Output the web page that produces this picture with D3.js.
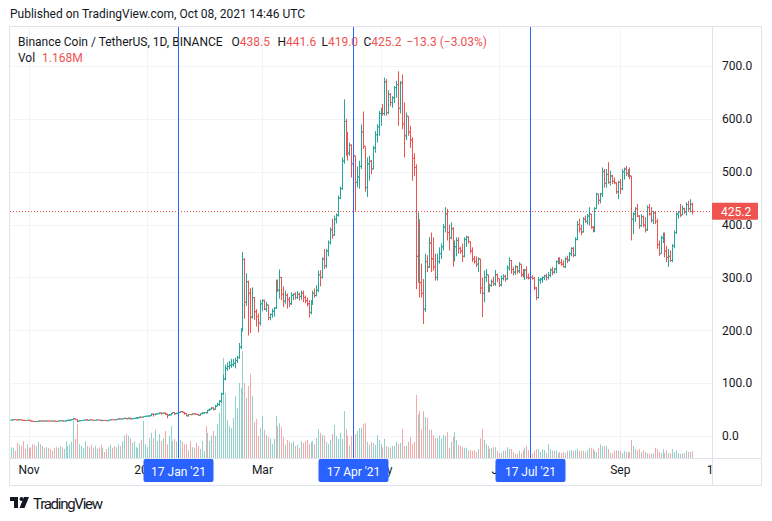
<!DOCTYPE html>
<html lang="en">
  <head>
    <meta charset="UTF-8" />
    <title>BNBUSDT 1D</title>
    <script src="https://d3js.org/d3.v7.min.js"></script>
    <style>
      body {
        margin: 0;
        background: #ffffff;
        font-family: Roboto, sans-serif;
      }
      text {
        font-family: Roboto, sans-serif;
      }
    </style>
  </head>
  <body>
    <svg id="chart" width="772" height="521"></svg>
    <script>
      // daily bars, first bar = 23 Oct 2020, last bar = 08 Oct 2021
      let firstDay = Date.UTC(2020, 9, 23);
      let firstOpen = 29.9;

      let close = [
        30.2,31.0,30.6,30.4,30.9,29.9,29.6,29.3,29.8,29.6,
        28.2,27.7,27.3,27.4,28.6,28.0,28.5,28.3,28.4,28.3,
        28.2,28.5,27.9,27.7,28.6,28.8,28.3,28.4,29.1,30.0,
        30.0,31.0,32.7,31.2,28.2,29.0,29.3,29.9,30.6,29.6,
        30.5,30.4,29.4,30.2,30.4,30.0,29.1,29.4,29.2,28.9,
        29.9,30.8,30.7,30.6,31.6,32.5,32.0,32.7,33.4,32.6,
        34.0,32.5,33.0,33.6,34.2,34.3,35.8,35.4,36.9,37.4,
        37.8,38.2,41.3,40.8,41.7,42.3,43.6,42.9,43.1,41.6,
        39.4,40.1,42.7,44.3,42.1,42.9,44.4,46.2,45.0,42.7,
        38.3,40.7,40.4,42.1,41.5,40.9,39.3,42.0,43.2,44.4,
        43.9,48.8,50.5,53.1,50.6,56.6,59.8,66.0,80.0,108.0,
        128,131.5,133.5,135,137.5,143,148.5,168.5,199,334,
        253,292,270,225,262,235,226,214,250,256,
        240,248,224,230,236,242,290,276,300,268,
        255,266,258,250,266,268,262,268,264,270,
        262,256,250,234,250,270,266,276,305,300,
        335,322,350,366,390,380,410,418,450,468,
        520,595,555,535,550,515,530,480,490,510,
        575,548,470,515,520,505,545,570,585,610,
        618,610,670,612,646,631,640,659,665,620,
        668,590,568,605,575,560,525,508,340,400,
        290,270,240,330,320,365,335,320,300,330,
        345,358,395,420,385,375,392,340,358,370,
        355,350,340,372,376,368,350,335,330,325,
        335,280,270,300,305,280,285,292,288,305,
        298,286,298,302,297,318,332,315,310,320,
        312,325,305,303,314,300,299,300,298,280,
        262,295,297,300,303,300,304,314,310,316,
        330,335,328,325,320,335,333,345,355,342,
        372,400,392,386,410,406,416,420,395,388,
        430,458,446,458,500,478,495,480,492,482,
        479,462,480,468,500,505,497,502,492,410,
        420,430,416,398,415,399,390,432,420,408,
        422,406,362,345,375,382,350,338,340,332,
        360,385,420,424,418,430,424,438,430,438.5,425.2
      ];

      let high = [
        30.8,31.4,31.3,30.9,31.2,31.0,30.3,29.8,30.2,30.1,
        29.8,28.4,27.9,28.0,29.0,29.3,28.9,29.0,28.8,28.9,
        28.6,28.8,28.6,28.1,28.8,29.2,29.5,28.7,29.4,30.4,
        31.2,31.8,34.5,33.0,31.6,29.6,29.8,30.2,31.2,31.6,
        30.8,31.0,30.6,30.4,30.6,30.5,30.1,29.7,29.6,29.3,
        30.1,31.0,31.1,31.0,31.8,33.6,32.8,33.0,34.6,33.8,
        34.4,34.4,33.2,34.0,35.0,35.8,36.5,36.3,37.2,38.0,
        38.3,39.0,42.8,42.6,42.4,42.9,44.8,44.3,44.0,44.4,
        41.8,42.0,43.4,45.0,45.0,43.8,45.1,47.0,47.5,45.3,
        43.4,41.3,41.5,42.4,43.0,41.8,41.1,42.5,45.6,45.3,
        45.0,49.7,52.0,54.6,54.3,58.7,62.5,68.0,82.0,116.0,
        135,139,142,146,145.5,148,152,176,204,348,
        336,308,294,280,281,263,240,232,257,259,
        258,254,248,232,241,244,296,296,315,301,
        283,275,270,263,272,270,272,274,271,275,
        275,266,262,257,257,275,279,285,313,314,
        338,354,354,370,395,411,417,421,455,472,
        527,637,600,575,555,552,547,530,510,521,
        589,614,548,527,530,522,549,577,590,615,
        621,628,678,675,654,649,643,662,672,690,
        672,684,631,612,605,587,565,535,514,423,
        410,326,297,345,342,376,385,376,345,345,
        357,364,401,433,430,400,404,395,370,376,
        376,358,364,376,379,378,368,357,341,340,
        338,335,300,313,316,305,288,296,301,314,
        307,298,304,306,305,323,338,333,320,323,
        322,329,325,316,316,321,307,307,304,301,
        282,301,299,302,305,307,310,317,320,318,
        332,338,338,335,332,338,341,348,357,358,
        376,407,411,400,414,417,420,433,420,397,
        433,460,458,460,508,505,505,518,502,494,
        489,480,483,486,505,508,511,505,508,492,
        423,433,439,418,420,417,414,436,439,433,
        426,424,411,370,379,385,385,360,354,351,
        363,389,423,426,439,436,432,442,445,448,441.6
      ];

      let low = [
        29.6,30.0,30.2,29.6,30.0,29.3,28.9,28.6,29.0,29.2,
        27.8,27.0,26.7,26.8,27.2,27.8,27.8,27.9,28.0,28.0,
        27.8,27.9,27.4,27.2,27.5,28.2,27.6,27.8,28.2,29.0,
        28.6,29.9,30.7,30.6,26.0,27.6,28.4,29.0,29.6,28.9,
        29.2,30.0,29.0,29.2,29.9,29.6,28.7,28.2,28.8,28.3,
        28.8,29.8,30.3,30.2,30.3,31.4,31.4,31.8,32.5,31.5,
        31.8,31.0,31.5,32.6,33.3,33.5,34.1,34.5,35.3,36.3,
        36.8,36.6,37.8,36.6,39.0,40.8,41.6,40.5,42.1,39.8,
        33.5,38.2,39.3,42.1,40.0,41.4,41.6,43.5,44.5,40.0,
        37.2,36.7,39.5,39.9,40.8,39.5,37.8,38.7,41.5,42.5,
        42.8,43.5,47.5,50.0,48.6,50.0,55.8,57.0,63.0,78.0,
        105,123,126,129,131,128,138,146,164,198,
        222,246,190,195,222,220,207,196,209,236,
        238,235,219,219,224,226,240,272,260,257,
        244,250,241,244,248,257,258,259,256,258,
        253,251,245,224,230,248,262,264,272,283,
        298,316,318,340,362,373,379,402,415,448,
        466,515,530,521,530,489,508,426,470,468,
        505,543,462,452,483,495,505,536,555,568,
        587,606,606,606,609,624,621,630,640,587,
        610,580,527,560,568,545,483,492,278,290,
        262,262,212,235,310,318,310,313,294,294,
        326,335,351,385,370,351,372,320,330,340,
        345,345,329,338,358,364,345,329,326,320,
        310,269,225,253,291,272,272,282,284,284,
        291,282,283,294,292,296,313,307,304,305,
        307,308,301,300,295,297,296,296,296,276,
        257,260,288,290,295,294,296,300,304,307,
        308,325,325,322,319,318,327,330,340,338,
        340,370,385,380,385,403,400,398,392,385,
        386,430,438,440,452,470,470,477,474,477,
        476,458,448,458,465,485,492,490,486,370,
        382,405,414,392,396,395,385,388,417,404,
        401,401,354,341,345,365,338,329,320,329,
        329,355,382,411,414,418,420,417,426,423,419.0
      ];

      // volume in millions of BNB
      let volume = [
        1.8,1.7,1.2,2.5,2.2,2.0,2.8,1.5,2.3,1.7,
        1.8,2.3,2.2,2.0,2.7,2.3,2.0,1.7,1.8,1.7,
        1.5,1.2,1.7,1.8,1.7,2.0,1.8,1.5,2.8,2.0,
        2.3,2.7,6.2,3.2,5.7,2.3,2.0,1.7,2.8,2.0,
        1.8,2.2,1.7,2.0,1.5,1.8,2.2,1.7,1.0,1.5,
        1.8,2.2,1.7,2.0,1.8,2.3,2.0,2.8,3.7,4.0,
        3.7,3.3,2.5,2.8,1.8,1.7,2.5,3.0,6.2,2.3,
        1.8,3.3,4.2,3.3,4.7,2.8,4.0,2.8,3.3,4.5,
        2.3,3.7,5.3,2.8,3.2,2.8,1.7,3.0,2.7,2.3,
        2.3,1.3,2.8,1.8,1.7,2.5,2.0,1.5,2.8,1.2,
        5.3,4.2,2.8,3.7,4.5,3.7,5.7,7.5,10.0,16.7,
        10.8,6.3,5.3,5.0,6.7,10.3,8.3,12.5,11.7,17.8,
        12.5,10.0,12.0,14.0,10.3,6.0,6.5,3.7,5.0,7.0,
        4.7,3.8,3.5,3.2,2.3,3.2,7.0,5.3,5.8,5.2,
        3.5,2.2,3.0,2.7,2.5,2.8,2.0,2.2,1.7,2.8,
        2.5,2.8,3.0,2.3,2.7,2.8,2.3,3.3,4.8,4.2,
        3.8,3.7,2.7,2.3,3.0,4.0,5.5,3.7,3.2,4.2,
        3.2,7.8,4.8,3.7,2.0,3.7,3.3,4.0,4.5,5.0,
        5.0,5.7,5.8,2.7,2.2,2.7,2.5,2.2,3.8,3.0,
        2.3,1.8,3.2,2.0,1.8,1.7,2.0,2.0,2.7,2.3,
        2.5,4.8,2.0,2.0,2.7,3.5,2.3,2.7,10.5,7.3,
        7.8,4.7,7.8,6.8,6.7,4.7,4.7,3.8,3.3,3.3,
        3.7,3.2,3.8,3.7,4.3,1.7,2.7,3.5,4.3,3.0,
        2.2,2.0,1.8,1.7,1.7,1.3,1.3,1.2,1.3,1.0,
        1.5,3.3,4.8,3.0,2.3,2.0,1.5,1.7,1.8,1.8,
        1.2,0.8,0.8,1.2,1.2,1.8,1.5,1.5,1.0,0.7,
        0.7,1.2,0.8,1.3,1.7,2.0,1.3,0.8,0.7,1.2,
        1.5,1.5,1.0,1.5,1.3,0.8,2.3,1.5,1.2,1.2,
        1.3,0.8,1.0,0.8,1.0,0.8,1.2,1.2,1.3,1.2,
        1.3,1.5,1.2,1.2,1.2,1.0,1.3,1.7,1.7,1.5,
        1.2,1.0,1.7,2.3,2.0,2.0,2.0,1.5,0.8,0.8,
        1.2,1.3,1.2,1.2,0.8,1.2,1.0,1.0,1.0,3.0,
        2.0,1.5,1.3,1.5,1.0,1.3,1.0,0.8,0.7,0.7,
        0.7,1.7,1.5,1.0,0.8,1.5,0.8,1.3,0.8,0.8,
        1.5,1.0,1.3,0.8,0.7,0.8,0.8,1.2,1.0,1.0,1.168
      ];

      let priceTicks = [0, 100, 200, 300, 400, 500, 600, 700];
      let timeTicks = [
        [Date.UTC(2020, 10, 1), "Nov"],
        [Date.UTC(2021, 0, 1), "2021"],
        [Date.UTC(2021, 2, 1), "Mar"],
        [Date.UTC(2021, 4, 1), "May"],
        [Date.UTC(2021, 6, 1), "Jul"],
        [Date.UTC(2021, 8, 1), "Sep"],
        [Date.UTC(2021, 9, 19), "18"],
      ];
      let markers = [
        [Date.UTC(2021, 0, 17), "17 Jan '21"],
        [Date.UTC(2021, 3, 17), "17 Apr '21"],
        [Date.UTC(2021, 6, 17), "17 Jul '21"],
      ];
      let lastPrice = 425.2;

      let up = "#26a69a";
      let down = "#ef5350";
      let upVol = "rgba(38,166,154,0.5)";
      let downVol = "rgba(239,83,80,0.5)";
      let textColor = "#131722";
      let gridColor = "#f0f3fa";
      let borderColor = "#e0e3eb";
      let blue = "#2962ff";

      let bars = close.map(function (c, i) {
        return {
          date: new Date(firstDay + i * 86400000),
          open: i === 0 ? firstOpen : close[i - 1],
          high: high[i],
          low: low[i],
          close: c,
          volume: volume[i],
        };
      });

      // pane geometry
      let paneLeft = 10, paneRight = 712, paneTop = 27, paneBottom = 458;

      let x = d3
        .scaleUtc()
        .domain([new Date(Date.UTC(2021, 0, 17)), new Date(Date.UTC(2021, 6, 17))])
        .range([178.3, 530.3]);
      let y = d3.scaleLinear().domain([0, 700]).range([436, 66]);
      let vy = d3.scaleLinear().domain([0, 18]).range([paneBottom, paneBottom - 108]);

      let svg = d3.select("#chart");
      svg.append("rect").attr("width", 772).attr("height", 521).attr("fill", "#fff");

      svg
        .append("text")
        .attr("x", 10)
        .attr("y", 18)
        .attr("font-size", 12)
        .attr("fill", textColor)
        .text("Published on TradingView.com, Oct 08, 2021 14:46 UTC");

      svg
        .append("clipPath")
        .attr("id", "pane")
        .append("rect")
        .attr("x", paneLeft)
        .attr("y", paneTop)
        .attr("width", paneRight - paneLeft)
        .attr("height", paneBottom - paneTop);

      let pane = svg.append("g").attr("clip-path", "url(#pane)");

      // grid
      pane
        .selectAll(".hgrid")
        .data(priceTicks)
        .enter()
        .append("line")
        .attr("x1", paneLeft)
        .attr("x2", paneRight)
        .attr("y1", (d) => Math.round(y(d)) + 0.5)
        .attr("y2", (d) => Math.round(y(d)) + 0.5)
        .attr("stroke", gridColor);
      pane
        .selectAll(".vgrid")
        .data(timeTicks)
        .enter()
        .append("line")
        .attr("x1", (d) => Math.round(x(d[0])) + 0.5)
        .attr("x2", (d) => Math.round(x(d[0])) + 0.5)
        .attr("y1", paneTop)
        .attr("y2", paneBottom)
        .attr("stroke", gridColor);

      // legend
      let legend = pane.append("text").attr("y", 46).attr("font-size", 12).attr("fill", textColor);
      legend.append("tspan").attr("x", 18).text("Binance Coin / TetherUS, 1D, BINANCE");
      let ohlc = [
        ["O", "438.5", 231.5],
        ["H", "441.6", 277.5],
        ["L", "419.0", 321.5],
        ["C", "425.2", 363.5],
      ];
      ohlc.forEach(function (d) {
        legend.append("tspan").attr("x", d[2]).text(d[0]);
        legend.append("tspan").attr("fill", down).text(d[1]);
      });
      legend.append("tspan").attr("dx", 5).attr("fill", down).text("\u221213.3 (\u22123.03%)");

      let volLegend = pane.append("text").attr("y", 62).attr("font-size", 12).attr("fill", textColor);
      volLegend.append("tspan").attr("x", 18).text("Vol");
      volLegend.append("tspan").attr("x", 42).attr("fill", down).text("1.168M");

      // volume
      pane
        .selectAll(".vol")
        .data(bars)
        .enter()
        .append("rect")
        .attr("x", (d) => Math.round(x(d.date)))
        .attr("width", 1)
        .attr("y", (d) => vy(d.volume))
        .attr("height", (d) => paneBottom - vy(d.volume))
        .attr("fill", (d) => (d.close >= d.open ? upVol : downVol));

      // last price line
      pane
        .append("line")
        .attr("x1", paneLeft)
        .attr("x2", paneRight)
        .attr("y1", Math.round(y(lastPrice)) + 0.5)
        .attr("y2", Math.round(y(lastPrice)) + 0.5)
        .attr("stroke", down)
        .attr("stroke-dasharray", "1,2");

      // OHLC bars
      let barG = pane.selectAll(".bar").data(bars).enter().append("g")
        .attr("stroke", (d) => (d.close >= d.open ? up : down))
        .attr("stroke-width", 1);
      barG
        .append("line")
        .attr("x1", (d) => Math.round(x(d.date)) + 0.5)
        .attr("x2", (d) => Math.round(x(d.date)) + 0.5)
        .attr("y1", (d) => y(d.high))
        .attr("y2", (d) => y(d.low));
      barG
        .append("line")
        .attr("x1", (d) => Math.round(x(d.date)) - 1)
        .attr("x2", (d) => Math.round(x(d.date)) + 0.5)
        .attr("y1", (d) => y(d.open))
        .attr("y2", (d) => y(d.open));
      barG
        .append("line")
        .attr("x1", (d) => Math.round(x(d.date)) + 0.5)
        .attr("x2", (d) => Math.round(x(d.date)) + 2)
        .attr("y1", (d) => y(d.close))
        .attr("y2", (d) => y(d.close));

      // vertical date markers
      pane
        .selectAll(".marker")
        .data(markers)
        .enter()
        .append("line")
        .attr("x1", (d) => Math.round(x(d[0])) + 0.5)
        .attr("x2", (d) => Math.round(x(d[0])) + 0.5)
        .attr("y1", paneTop)
        .attr("y2", paneBottom)
        .attr("stroke", blue);

      // frame
      svg.append("rect").attr("x", 9.5).attr("y", 26.5).attr("width", 752).attr("height", 459)
        .attr("fill", "none").attr("stroke", borderColor);
      svg.append("line").attr("x1", 712.5).attr("x2", 712.5).attr("y1", 26.5).attr("y2", 485.5)
        .attr("stroke", borderColor);
      svg.append("line").attr("x1", 9.5).attr("x2", 761.5).attr("y1", 458.5).attr("y2", 458.5)
        .attr("stroke", borderColor);

      // price axis
      let yAxis = d3
        .axisRight(y)
        .tickValues(priceTicks)
        .tickFormat(d3.format(".1f"))
        .tickSize(0)
        .tickPadding(0);
      svg
        .append("g")
        .attr("transform", "translate(722,0)")
        .call(yAxis)
        .call((g) => g.select(".domain").remove())
        .selectAll("text")
        .attr("font-size", 12)
        .attr("font-family", "Roboto, sans-serif")
        .attr("fill", textColor);

      let tag = svg.append("g").attr("transform", "translate(0," + y(lastPrice) + ")");
      tag.append("rect").attr("x", 712).attr("y", -8.5).attr("width", 46).attr("height", 17)
        .attr("rx", 1).attr("fill", down);
      tag.append("text").attr("x", 721).attr("y", 4.3).attr("font-size", 12).attr("fill", "#fff")
        .text(d3.format(".1f")(lastPrice));

      // time axis
      svg
        .append("clipPath")
        .attr("id", "taxis")
        .append("rect")
        .attr("x", paneLeft)
        .attr("y", 459)
        .attr("width", paneRight - paneLeft)
        .attr("height", 26);
      let xAxis = d3
        .axisBottom(x)
        .tickValues(timeTicks.map((d) => new Date(d[0])))
        .tickFormat((d, i) => timeTicks[i][1])
        .tickSize(0)
        .tickPadding(0);
      svg
        .append("g")
        .attr("clip-path", "url(#taxis)")
        .append("g")
        .attr("transform", "translate(0,465)")
        .call(xAxis)
        .call((g) => g.select(".domain").remove())
        .selectAll("text")
        .attr("font-size", 12)
        .attr("font-family", "Roboto, sans-serif")
        .attr("fill", textColor);

      let mk = svg.selectAll(".mk").data(markers).enter().append("g")
        .attr("transform", (d) => "translate(" + (Math.round(x(d[0])) + 0.5) + ",0)");
      mk.append("rect").attr("x", -35).attr("y", 459).attr("width", 70).attr("height", 23)
        .attr("rx", 2).attr("fill", blue);
      mk.append("text").attr("y", 475.5).attr("text-anchor", "middle").attr("font-size", 12)
        .attr("fill", "#fff").text((d) => d[1]);

      // TradingView logo
      let logo = svg.append("g").attr("transform", "translate(10,497)").attr("fill", textColor);
      logo.append("path").attr("d", "M0,0 H8 V11 H4 V4 H0 Z");
      logo.append("circle").attr("cx", 11.5).attr("cy", 2).attr("r", 2);
      logo.append("path").attr("d", "M14,0 H19 L14.5,11 H9.5 Z");
      svg.append("text").attr("x", 33).attr("y", 509).attr("font-size", 15).attr("fill", textColor)
        .attr("textLength", 70).text("TradingView");
    </script>
  </body>
</html>
